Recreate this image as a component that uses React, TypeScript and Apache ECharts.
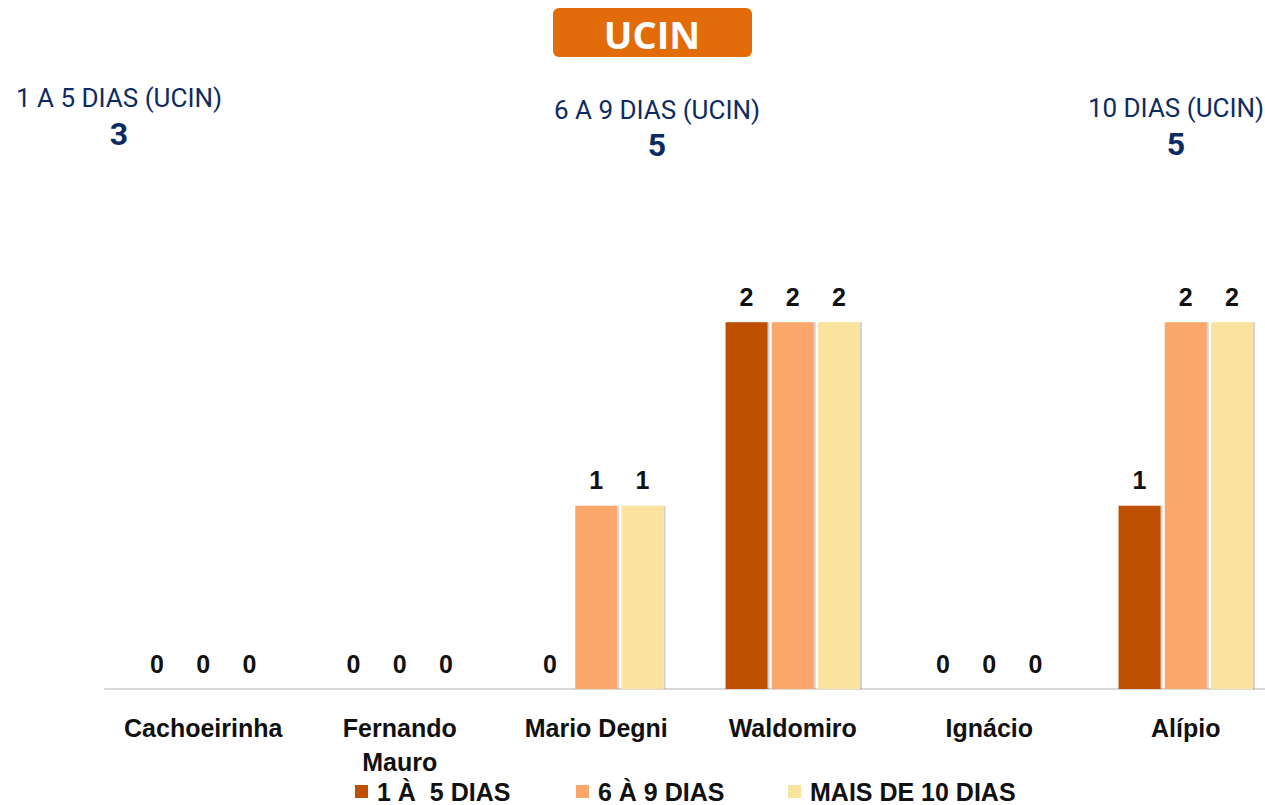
import React, { useEffect, useRef } from "react";
import * as echarts from "echarts";

const categories = ["Cachoeirinha", "Fernando\nMauro", "Mario Degni", "Waldomiro", "Ignácio", "Alípio"];
const seriesNames = ["1 À  5 DIAS", "6 À 9 DIAS", "MAIS DE 10 DIAS"];
const dias1a5 = [0, 0, 0, 2, 0, 1];
const dias6a9 = [0, 0, 1, 2, 0, 2];
const dias10mais = [0, 0, 1, 2, 0, 2];
const colors = ["#BF5000", "#FBA66B", "#FAE29F"];
const kpiLabels = ["1 A 5 DIAS (UCIN)", "6 A 9 DIAS (UCIN)", "10 DIAS (UCIN)"];
const kpiValues = ["3", "5", "5"];
const titleText = "UCIN";

export default function App() {
  const ref = useRef<HTMLDivElement>(null);
  useEffect(() => {
    if (!ref.current) return;
    const chart = echarts.init(ref.current, null, { renderer: "svg" });
    const navy = "#0D2B63";
    const font = "Liberation Sans, Arial, sans-serif";
    const kpiPos = [
      { x: 119, y1: 98, y2: 134 },
      { x: 657, y1: 110, y2: 145 },
      { x: 1176, y1: 108, y2: 144 },
    ];
    const legendLeft = [355, 576, 788];
    const allData = [dias1a5, dias6a9, dias10mais];
    chart.setOption({
      animation: false,
      backgroundColor: "#ffffff",
      grid: { left: 105, width: 1179, top: 139, bottom: 116, containLabel: false },
      xAxis: {
        type: "category",
        data: categories,
        axisLine: { show: true, lineStyle: { color: "#D9D9D9", width: 2 } },
        axisTick: { show: false },
        axisLabel: {
          margin: 22,
          fontFamily: font,
          fontWeight: "bold",
          fontSize: 25,
          color: "#111111",
          lineHeight: 34,
          interval: 0,
        },
      },
      yAxis: { type: "value", min: 0, max: 3, show: false, splitLine: { show: false } },
      legend: seriesNames.map((n, i) => ({
        left: legendLeft[i],
        top: 779,
        itemWidth: 13,
        itemHeight: 13,
        icon: "rect",
        data: [n],
        padding: 0,
        textStyle: {
          fontFamily: font,
          fontWeight: "bold",
          fontSize: 25,
          color: "#111111",
          padding: [0, 0, 0, 4],
        },
      })),
      series: seriesNames.map((name, i) => ({
        name,
        type: "bar",
        data: allData[i],
        barWidth: 42,
        barGap: "10%",
        itemStyle: {
          color: colors[i],
          shadowColor: "rgba(0,0,0,0.18)",
          shadowOffsetX: 2,
          shadowBlur: 1,
        },
        label: {
          show: true,
          position: "top",
          distance: 13,
          fontFamily: font,
          fontWeight: "bold",
          fontSize: 25,
          color: "#111111",
        },
      })),
      graphic: [
        {
          type: "rect",
          shape: { x: 553, y: 8, width: 199, height: 49, r: 6 },
          style: { fill: "#E36C0A" },
        },
        {
          type: "text",
          x: 652,
          y: 34,
          style: {
            text: titleText,
            fill: "#ffffff",
            font: "bold 38px 'Open Sans', sans-serif",
            align: "center",
            verticalAlign: "middle",
          },
        },
        ...kpiPos.flatMap((p, i) => [
          {
            type: "text",
            x: p.x,
            y: p.y1,
            style: {
              text: kpiLabels[i],
              fill: navy,
              font: "26px Roboto, sans-serif",
              align: "center",
              verticalAlign: "middle",
            },
          },
          {
            type: "text",
            x: p.x,
            y: p.y2,
            style: {
              text: kpiValues[i],
              fill: navy,
              font: "bold 32px Roboto, sans-serif",
              align: "center",
              verticalAlign: "middle",
            },
          },
        ]),
      ],
    });
    return () => chart.dispose();
  }, []);
  return (
    <div style={{ position: "fixed", left: 0, top: 0, width: 1265, height: 805, overflow: "hidden", background: "#fff" }}>
      <div ref={ref} style={{ width: 1300, height: 805 }} />
    </div>
  );
}
